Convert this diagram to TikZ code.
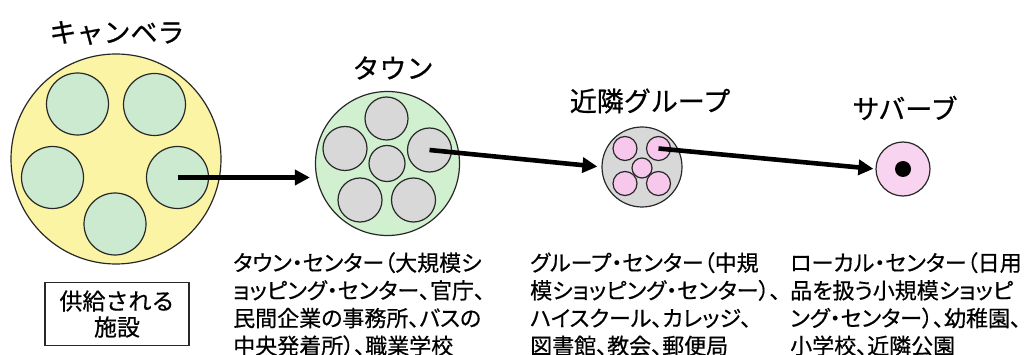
\documentclass[tikz,border=0pt]{standalone}
\usepackage{fontspec}
\setmainfont{Noto Sans CJK JP}
\newfontfamily\jpp[RawFeature=+palt,FakeBold=0.5]{Noto Sans CJK JP}
\newfontfamily\jpt[FakeBold=0.6]{Noto Sans CJK JP}
\usetikzlibrary{arrows.meta}
\definecolor{yel}{RGB}{251,244,165}
\definecolor{mint}{RGB}{204,234,208}
\definecolor{mintl}{RGB}{208,240,208}
\definecolor{gry}{RGB}{216,216,216}
\definecolor{pnk}{RGB}{247,200,236}
\definecolor{pnkl}{RGB}{249,212,240}
\definecolor{linec}{RGB}{40,40,40}
\begin{document}
\begin{tikzpicture}[x=1pt,y=-1pt,
  ring/.style={circle, draw=linec, line width=1.2pt, inner sep=0pt, minimum size=#1},
  arr/.style={line width=4.6pt, -{Triangle[length=15pt,width=15pt]}},
  ttl/.style={inner sep=0pt, font=\jpt\fontsize{27}{30}\selectfont},
  desc/.style={inner sep=0pt, anchor=north west, align=left, font=\jpp\fontsize{22}{27.7}\selectfont},
  boxn/.style={draw=linec, line width=1.3pt, minimum width=144pt, minimum height=63pt, inner sep=0pt, align=center, font=\jpt\fontsize{23}{26}\selectfont}]
\useasboundingbox (0,0) rectangle (1032,355);
\fill[white] (0,0) rectangle (1032,355);
% Canberra
\node[ring=210pt, fill=yel] (canb) at (116,159) {};
\node[ring=62pt, fill=mint] (c1) at (77.5,104) {};
\node[ring=62pt, fill=mint] (c2) at (154.5,104.5) {};
\node[ring=62pt, fill=mint] (c3) at (52.5,177.5) {};
\node[ring=62pt, fill=mint] (c4) at (177.5,177.5) {};
\node[ring=62pt, fill=mint] (c5) at (115,224) {};
% Town
\node[ring=144pt, fill=mintl] (town) at (387.5,163.5) {};
\node[ring=43pt, fill=gry] (t1) at (386.5,118.5) {};
\node[ring=44pt, fill=gry] (t2) at (345,148.5) {};
\node[ring=44pt, fill=gry] (t3) at (429.5,150) {};
\node[ring=36pt, fill=gry] (t4) at (387,163.5) {};
\node[ring=44pt, fill=gry] (t5) at (360,200) {};
\node[ring=44pt, fill=gry] (t6) at (413.5,200) {};
% Group
\node[ring=80pt, fill=gry] (grp) at (642,167) {};
\node[ring=24pt, fill=pnk] (g1) at (625,148.5) {};
\node[ring=24pt, fill=pnk] (g2) at (658.5,148.5) {};
\node[ring=20pt, fill=pnk] (g3) at (642,168) {};
\node[ring=24pt, fill=pnk] (g4) at (625,183.5) {};
\node[ring=24pt, fill=pnk] (g5) at (658.5,183.5) {};
% Suburb
\node[ring=54pt, fill=pnkl] (sub) at (903,169) {};
\node[circle, fill=black, inner sep=0pt, minimum size=16pt] (dot) at (903,169) {};
% arrows
\draw[arr, shorten >=5pt] (c4.center) -- (c4.center -| town.west);
\draw[arr, shorten >=4pt] (t3.center) -- (grp.west);
\draw[arr, shorten >=2pt] (g2.center) -- (sub.west);
% titles
\node[ttl] (tcanb) at (117,33) {キャンベラ};
\node[ttl] (ttown) at (393,68) {タウン};
\node[ttl] (tgrp) at (650,101) {近隣グループ};
\node[ttl] (tsub) at (905,108) {サバーブ};
% descriptions
\node[desc] (dtown) at (233,252) {タウン・センター（大規模シ\\ョッピング・センター、官庁、\\民間企業の事務所、バスの\\中央発着所）、職業学校};
\node[desc] (dgrp) at (530,252) {グループ・センター（中規\\模ショッピング・センター）、\\ハイスクール、カレッジ、\\図書館、教会、郵便局};
\node[desc] (dsub) at (790,252) {ローカル・センター（日用\\品を扱う小規模ショッピ\\ング・センター）、幼稚園、\\小学校、近隣公園};
% box
\node[boxn] (box) at (117,314) {供給される\\施設};
\end{tikzpicture}
\end{document}
